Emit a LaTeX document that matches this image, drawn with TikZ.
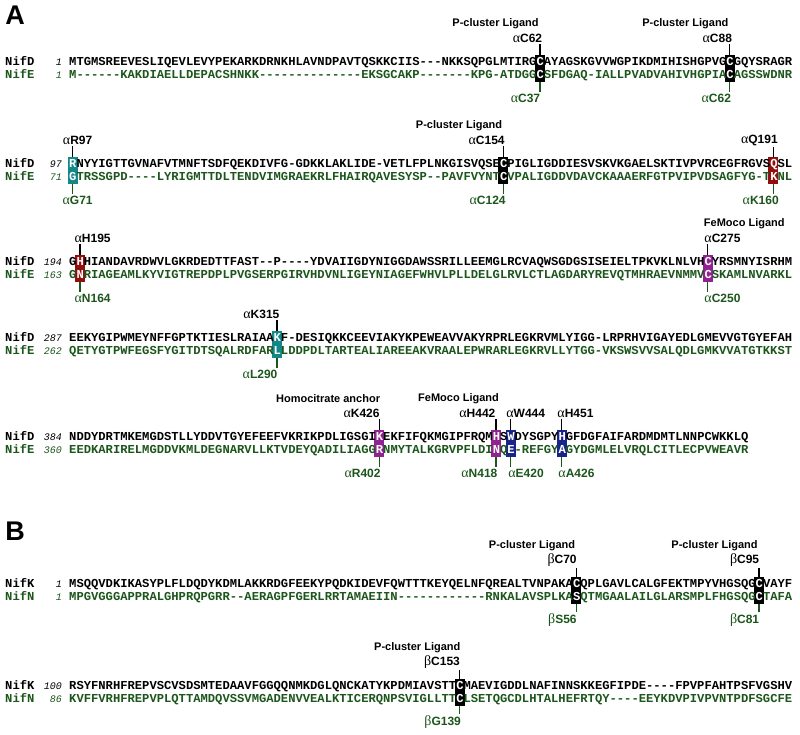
\documentclass[tikz,border=0pt]{standalone}
\usepackage{fontspec}
\setmainfont{Liberation Sans}
\setsansfont{Liberation Sans}
\setmonofont{Liberation Mono}
\newfontfamily\greekfont{Liberation Serif}
\usepackage{xcolor}
\usepackage{tikz}
\definecolor{nifgreen}{RGB}{28,86,28}
\definecolor{hlteal}{RGB}{20,135,135}
\definecolor{hlred}{RGB}{145,15,15}
\definecolor{hlpurple}{RGB}{145,35,145}
\definecolor{hlblue}{RGB}{25,35,140}
\newcommand{\seqfont}{\ttfamily\bfseries\fontsize{12.17}{14}\selectfont}
\newcommand{\numfont}{\ttfamily\itshape\fontsize{10}{12}\selectfont}
\newcommand{\labfont}{\sffamily\bfseries\fontsize{11}{13}\selectfont}
\newcommand{\sitefont}{\sffamily\bfseries\fontsize{12}{14}\selectfont}
\newcommand{\wh}[1]{\textcolor{white}{#1}}
\newcommand{\ga}{{\greekfont\mdseries\fontsize{14}{14}\selectfont α}}
\newcommand{\gb}{{\greekfont\mdseries\fontsize{14}{14}\selectfont β}}
\newcommand{\colx}[1]{69+(#1-0.5)*7.3}
\tikzset{
  panel/.style={inner sep=0pt, font=\sffamily\bfseries\fontsize{27}{30}\selectfont},
  seqname/.style={anchor=base west, inner sep=0pt, font=\seqfont},
  seqnum/.style={anchor=base east, inner sep=0pt, font=\numfont},
  seqline/.style={anchor=base west, inner sep=0pt, font=\seqfont},
  nife/.style={text=nifgreen},
  hlbox/.style={minimum width=10pt, minimum height=27pt, inner sep=0pt},
  site/.style={inner sep=1.5pt, font=\sitefont},
  sitee/.style={site, text=nifgreen},
  role/.style={inner sep=1pt, font=\labfont},
  tickup/.style={line width=1.3pt},
  tickdn/.style={line width=1.3pt, draw=nifgreen}
}

\begin{document}
\begin{tikzpicture}[x=1pt, y=-1pt]
    \useasboundingbox (0,0) rectangle (800,734);
    \fill[white] (0,0) rectangle (800,734);

    % Panel letters
    \node[panel] (panelA) at (15,15) {A};
    \node[panel] (panelB) at (15,531) {B};

    % ===== A, row 1 =====
    \node[hlbox, fill=black] (hC62) at ({\colx{65}},68.5) {};
    \node[hlbox, fill=black] (hC88) at ({\colx{91}},68.5) {};
    \node[seqname] (dname1) at (5,65.5) {NifD};
    \node[seqnum] (dnum1) at (62,65.5) {1};
    \node[seqline] (dseq1) at (69,65.5) {MTGMSREEVESLIQEVLEVYPEKARKDRNKHLAVNDPAVTQSKKCIIS---NKKSQPGLMTIRG\wh{C}AYAGSKGVVWGPIKDMIHISHGPVG\wh{C}GQYSRAGR};
    \node[seqname, nife] (ename1) at (5,78.5) {NifE};
    \node[seqnum, nife] (enum1) at (62,78.5) {1};
    \node[seqline, nife] (eseq1) at (69,78.5) {M------KAKDIAELLDEPACSHNKK--------------EKSGCAKP-------KPG-ATDGG\wh{C}SFDGAQ-IALLPVADVAHIVHGPIA\wh{C}AGSSWDNR};
    % labels
    \node[role, anchor=east] (rC62) at ({\colx{65}},24) {P-cluster Ligand};
    \node[site, anchor=east] (uC62) at ({\colx{65}+4},38) {\ga C62};
    \node[sitee, anchor=east] (dC37) at ({\colx{65}+2},98) {\ga C37};
    \node[role, anchor=east] (rC88) at ({\colx{91}},24) {P-cluster Ligand};
    \node[site, anchor=east] (uC88) at ({\colx{91}+4},38) {\ga C88};
    \node[sitee, anchor=east] (dC62) at ({\colx{91}+3},98) {\ga C62};
    \draw[tickup] (hC62.north) -- (hC62.north |- uC62.south);
    \draw[tickdn] (hC62.south) -- (hC62.south |- dC37.north);
    \draw[tickup] (hC88.north) -- (hC88.north |- uC88.south);
    \draw[tickdn] (hC88.south) -- (hC88.south |- dC62.north);

    % ===== A, row 2 =====
    \node[hlbox, fill=hlteal] (hR97) at ({\colx{1}},170.5) {};
    \node[hlbox, fill=black] (hC154) at ({\colx{60}},170.5) {};
    \node[hlbox, fill=hlred] (hQ191) at ({\colx{97}},170.5) {};
    \node[seqname] (dname2) at (5,167.5) {NifD};
    \node[seqnum] (dnum2) at (62,167.5) {97};
    \node[seqline] (dseq2) at (69,167.5) {\wh{R}NYYIGTTGVNAFVTMNFTSDFQEKDIVFG-GDKKLAKLIDE-VETLFPLNKGISVQSE\wh{C}PIGLIGDDIESVSKVKGAELSKTIVPVRCEGFRGVS\wh{Q}SL};
    \node[seqname, nife] (ename2) at (5,180.5) {NifE};
    \node[seqnum, nife] (enum2) at (62,180.5) {71};
    \node[seqline, nife] (eseq2) at (69,180.5) {\wh{G}TRSSGPD----LYRIGMTTDLTENDVIMGRAEKRLFHAIRQAVESYSP--PAVFVYNT\wh{C}VPALIGDDVDAVCKAAAERFGTPVIPVDSAGFYG-T\wh{K}NL};
    % labels
    \node[site] (uR97) at ({\colx{1}+5},140) {\ga R97};
    \node[sitee] (dG71) at ({\colx{1}+5},200) {\ga G71};
    \node[role, anchor=east] (rC154) at ({\colx{60}},126) {P-cluster Ligand};
    \node[site, anchor=east] (uC154) at ({\colx{60}+3},140) {\ga C154};
    \node[sitee, anchor=east] (dC124) at ({\colx{60}+4},200) {\ga C124};
    \node[site, anchor=east] (uQ191) at ({\colx{97}+6},140) {\ga Q191};
    \node[sitee, anchor=east] (dK160) at ({\colx{97}+7},200) {\ga K160};
    \draw[tickup] (hR97.north) -- (hR97.north |- uR97.south);
    \draw[tickdn] (hR97.south) -- (hR97.south |- dG71.north);
    \draw[tickup] (hC154.north) -- (hC154.north |- uC154.south);
    \draw[tickdn] (hC154.south) -- (hC154.south |- dC124.north);
    \draw[tickup] (hQ191.north) -- (hQ191.north |- uQ191.south);
    \draw[tickdn] (hQ191.south) -- (hQ191.south |- dK160.north);

    % ===== A, row 3 =====
    \node[hlbox, fill=hlred] (hH195) at ({\colx{2}},268.5) {};
    \node[hlbox, fill=hlpurple] (hC275) at ({\colx{88}},268.5) {};
    \node[seqname] (dname3) at (5,265.5) {NifD};
    \node[seqnum] (dnum3) at (62,265.5) {194};
    \node[seqline] (dseq3) at (69,265.5) {G\wh{H}HIANDAVRDWVLGKRDEDTTFAST--P----YDVAIIGDYNIGGDAWSSRILLEEMGLRCVAQWSGDGSISEIELTPKVKLNLVH\wh{C}YRSMNYISRHM};
    \node[seqname, nife] (ename3) at (5,278.5) {NifE};
    \node[seqnum, nife] (enum3) at (62,278.5) {163};
    \node[seqline, nife] (eseq3) at (69,278.5) {G\wh{N}RIAGEAMLKYVIGTREPDPLPVGSERPGIRVHDVNLIGEYNIAGEFWHVLPLLDELGLRVLCTLAGDARYREVQTMHRAEVNMMV\wh{C}SKAMLNVARKL};
    % labels
    \node[site, anchor=west] (uH195) at ({\colx{2}-7},238) {\ga H195};
    \node[sitee, anchor=west] (dN164) at ({\colx{2}-7},298) {\ga N164};
    \node[role, anchor=west] (rC275) at ({\colx{88}-5},224) {FeMoco Ligand};
    \node[site, anchor=west] (uC275) at ({\colx{88}-5},238) {\ga C275};
    \node[sitee, anchor=west] (dC250) at ({\colx{88}-5},298) {\ga C250};
    \draw[tickup] (hH195.north) -- (hH195.north |- uH195.south);
    \draw[tickdn] (hH195.south) -- (hH195.south |- dN164.north);
    \draw[tickup] (hC275.north) -- (hC275.north |- uC275.south);
    \draw[tickdn] (hC275.south) -- (hC275.south |- dC250.north);

    % ===== A, row 4 =====
    \node[hlbox, fill=hlteal] (hK315) at ({\colx{29}},344.5) {};
    \node[seqname] (dname4) at (5,341.5) {NifD};
    \node[seqnum] (dnum4) at (62,341.5) {287};
    \node[seqline] (dseq4) at (69,341.5) {EEKYGIPWMEYNFFGPTKTIESLRAIAA\wh{K}F-DESIQKKCEEVIAKYKPEWEAVVAKYRPRLEGKRVMLYIGG-LRPRHVIGAYEDLGMEVVGTGYEFAH};
    \node[seqname, nife] (ename4) at (5,354.5) {NifE};
    \node[seqnum, nife] (enum4) at (62,354.5) {262};
    \node[seqline, nife] (eseq4) at (69,354.5) {QETYGTPWFEGSFYGITDTSQALRDFAR\wh{L}LDDPDLTARTEALIAREEAKVRAALEPWRARLEGKRVLLYTGG-VKSWSVVSALQDLGMKVVATGTKKST};
    % labels
    \node[site, anchor=east] (uK315) at ({\colx{29}+4},314) {\ga K315};
    \node[sitee, anchor=east] (dL290) at ({\colx{29}+2},374) {\ga L290};
    \draw[tickup] (hK315.north) -- (hK315.north |- uK315.south);
    \draw[tickdn] (hK315.south) -- (hK315.south |- dL290.north);

    % ===== A, row 5 =====
    \node[hlbox, fill=hlpurple] (hK426) at ({\colx{43}},443.5) {};
    \node[hlbox, fill=hlpurple] (hH442) at ({\colx{59}},443.5) {};
    \node[hlbox, fill=hlblue] (hW444) at ({\colx{61}},443.5) {};
    \node[hlbox, fill=hlblue] (hH451) at ({\colx{68}},443.5) {};
    \node[seqname] (dname5) at (5,440.5) {NifD};
    \node[seqnum] (dnum5) at (62,440.5) {384};
    \node[seqline] (dseq5) at (69,440.5) {NDDYDRTMKEMGDSTLLYDDVTGYEFEEFVKRIKPDLIGSGI\wh{K}EKFIFQKMGIPFRQM\wh{H}S\wh{W}DYSGPY\wh{H}GFDGFAIFARDMDMTLNNPCWKKLQ};
    \node[seqname, nife] (ename5) at (5,453.5) {NifE};
    \node[seqnum, nife] (enum5) at (62,453.5) {360};
    \node[seqline, nife] (eseq5) at (69,453.5) {EEDKARIRELMGDDVKMLDEGNARVLLKTVDEYQADILIAGG\wh{R}NMYTALKGRVPFLDI\wh{N}Q\wh{E}-REFGY\wh{A}GYDGMLELVRQLCITLECPVWEAVR};
    % labels
    \node[role, anchor=east] (rK426) at ({\colx{43}+2},399) {Homocitrate anchor};
    \node[site, anchor=east] (uK426) at ({\colx{43}+2},413) {\ga K426};
    \node[sitee, anchor=east] (dR402) at ({\colx{43}+3},473) {\ga R402};
    \node[role, anchor=east] (rH442) at ({\colx{59}+4},399) {FeMoco Ligand};
    \node[site, anchor=east] (uH442) at ({\colx{59}+1},413) {\ga H442};
    \node[sitee, anchor=east] (dN418) at ({\colx{59}+3},473) {\ga N418};
    \node[site, anchor=west] (uW444) at ({\colx{61}-6},413) {\ga W444};
    \node[sitee, anchor=west] (dE420) at ({\colx{61}-4},473) {\ga E420};
    \node[site, anchor=west] (uH451) at ({\colx{68}-6},413) {\ga H451};
    \node[sitee, anchor=west] (dA426) at ({\colx{68}-5},473) {\ga A426};
    \draw[tickup] (hK426.north) -- (hK426.north |- uK426.south);
    \draw[tickdn] (hK426.south) -- (hK426.south |- dR402.north);
    \draw[tickup] (hH442.north) -- (hH442.north |- uH442.south);
    \draw[tickdn] (hH442.south) -- (hH442.south |- dN418.north);
    \draw[tickup] (hW444.north) -- (hW444.north |- uW444.south);
    \draw[tickdn] (hW444.south) -- (hW444.south |- dE420.north);
    \draw[tickup] (hH451.north) -- (hH451.north |- uH451.south);
    \draw[tickdn] (hH451.south) -- (hH451.south |- dA426.north);

    % ===== B, row 1 =====
    \node[hlbox, fill=black] (hC70) at ({\colx{70}},590.5) {};
    \node[hlbox, fill=black] (hC95) at ({\colx{95}},590.5) {};
    \node[seqname] (kname1) at (5,587.5) {NifK};
    \node[seqnum] (knum1) at (62,587.5) {1};
    \node[seqline] (kseq1) at (69,587.5) {MSQQVDKIKASYPLFLDQDYKDMLAKKRDGFEEKYPQDKIDEVFQWTTTKEYQELNFQREALTVNPAKA\wh{C}QPLGAVLCALGFEKTMPYVHGSQG\wh{C}VAYF};
    \node[seqname, nife] (nname1) at (5,600.5) {NifN};
    \node[seqnum, nife] (nnum1) at (62,600.5) {1};
    \node[seqline, nife] (nseq1) at (69,600.5) {MPGVGGGAPPRALGHPRQPGRR--AERAGPFGERLRRTAMAEIIN------------RNKALAVSPLKA\wh{S}QTMGAALAILGLARSMPLFHGSQG\wh{C}TAFA};
    % labels
    \node[role, anchor=east] (rC70) at ({\colx{70}},546) {P-cluster Ligand};
    \node[site, anchor=east] (uC70) at ({\colx{70}+2},560) {\gb C70};
    \node[sitee, anchor=east] (dS56) at ({\colx{70}+2},620) {\gb S56};
    \node[role, anchor=east] (rC95) at ({\colx{95}},546) {P-cluster Ligand};
    \node[site, anchor=east] (uC95) at ({\colx{95}+2},560) {\gb C95};
    \node[sitee, anchor=east] (dC81) at ({\colx{95}+2},620) {\gb C81};
    \draw[tickup] (hC70.north) -- (hC70.north |- uC70.south);
    \draw[tickdn] (hC70.south) -- (hC70.south |- dS56.north);
    \draw[tickup] (hC95.north) -- (hC95.north |- uC95.south);
    \draw[tickdn] (hC95.south) -- (hC95.south |- dC81.north);

    % ===== B, row 2 =====
    \node[hlbox, fill=black] (hC153) at ({\colx{54}},692.5) {};
    \node[seqname] (kname2) at (5,689.5) {NifK};
    \node[seqnum] (knum2) at (62,689.5) {100};
    \node[seqline] (kseq2) at (69,689.5) {RSYFNRHFREPVSCVSDSMTEDAAVFGGQQNMKDGLQNCKATYKPDMIAVSTT\wh{C}MAEVIGDDLNAFINNSKKEGFIPDE----FPVPFAHTPSFVGSHV};
    \node[seqname, nife] (nname2) at (5,702.5) {NifN};
    \node[seqnum, nife] (nnum2) at (62,702.5) {86};
    \node[seqline, nife] (nseq2) at (69,702.5) {KVFFVRHFREPVPLQTTAMDQVSSVMGADENVVEALKTICERQNPSVIGLLTT\wh{C}LSETQGCDLHTALHEFRTQY----EEYKDVPIVPVNTPDFSGCFE};
    % labels
    \node[role, anchor=east] (rC153) at ({\colx{54}+2},648) {P-cluster Ligand};
    \node[site, anchor=east] (uC153) at ({\colx{54}+2},662) {\gb C153};
    \node[sitee, anchor=east] (dG139) at ({\colx{54}+3},722) {\gb G139};
    \draw[tickup] (hC153.north) -- (hC153.north |- uC153.south);
    \draw[tickdn] (hC153.south) -- (hC153.south |- dG139.north);

\end{tikzpicture}
\end{document}
